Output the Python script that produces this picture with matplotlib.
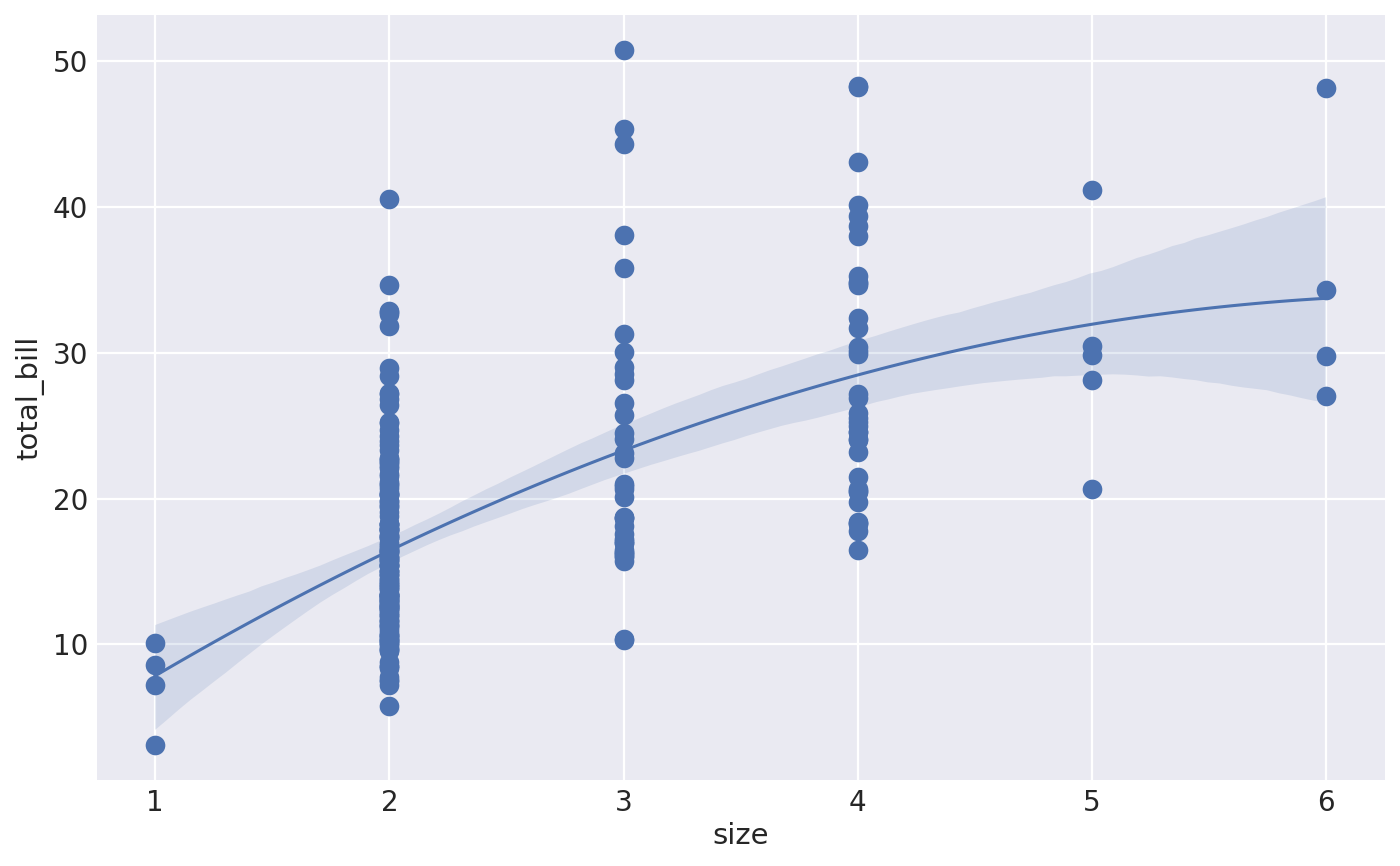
import numpy as np
import matplotlib
matplotlib.use("Agg")
import matplotlib.pyplot as plt
import seaborn as sns

# tips dataset: total_bill and party size
total_bill = [
    16.99, 10.34, 21.01, 23.68, 24.59, 25.29, 8.77, 26.88, 15.04, 14.78,
    10.27, 35.26, 15.42, 18.43, 14.83, 21.58, 10.33, 16.29, 16.97, 20.65,
    17.92, 20.29, 15.77, 39.42, 19.82, 17.81, 13.37, 12.69, 21.70, 19.65,
    9.55, 18.35, 15.06, 20.69, 17.78, 24.06, 16.31, 16.93, 18.69, 31.27,
    16.04, 17.46, 13.94, 9.68, 30.40, 18.29, 22.23, 32.40, 28.55, 18.04,
    12.54, 10.29, 34.81, 9.94, 25.56, 19.49, 38.01, 26.41, 11.24, 48.27,
    20.29, 13.81, 11.02, 18.29, 17.59, 20.08, 16.45, 3.07, 20.23, 15.01,
    12.02, 17.07, 26.86, 25.28, 14.73, 10.51, 17.92, 27.20, 22.76, 17.29,
    19.44, 16.66, 10.07, 32.68, 15.98, 34.83, 13.03, 18.28, 24.71, 21.16,
    28.97, 22.49, 5.75, 16.32, 22.75, 40.17, 27.28, 12.03, 21.01, 12.46,
    11.35, 15.38, 44.30, 22.42, 20.92, 15.36, 20.49, 25.21, 18.24, 14.31,
    14.00, 7.25, 38.07, 23.95, 25.71, 17.31, 29.93, 10.65, 12.43, 24.08,
    11.69, 13.42, 14.26, 15.95, 12.48, 29.80, 8.52, 14.52, 11.38, 22.82,
    19.08, 20.27, 11.17, 12.26, 18.26, 8.51, 10.33, 14.15, 16.00, 13.16,
    17.47, 34.30, 41.19, 27.05, 16.43, 8.35, 18.64, 11.87, 9.78, 7.51,
    14.07, 13.13, 17.26, 24.55, 19.77, 29.85, 48.17, 25.00, 13.39, 16.49,
    21.50, 12.66, 16.21, 13.81, 17.51, 24.52, 20.76, 31.71, 10.59, 10.63,
    50.81, 15.81, 7.25, 31.85, 16.82, 32.90, 17.89, 14.48, 9.60, 34.63,
    34.65, 23.33, 45.35, 23.17, 40.55, 20.69, 20.90, 30.46, 18.15, 23.10,
    15.69, 19.81, 28.44, 15.48, 16.58, 7.56, 10.34, 43.11, 13.00, 13.51,
    18.71, 12.74, 13.00, 16.40, 20.53, 16.47, 26.59, 38.73, 24.27, 12.76,
    30.06, 25.89, 48.33, 13.27, 28.17, 12.90, 28.15, 11.59, 7.74, 30.14,
    12.16, 13.42, 8.58, 15.98, 13.42, 16.27, 10.09, 20.45, 13.28, 22.12,
    24.01, 15.69, 11.61, 10.77, 15.53, 10.07, 12.60, 32.83, 35.83, 29.03,
    27.18, 22.67, 17.82, 18.78,
]
party_size = [
    2, 3, 3, 2, 4, 4, 2, 4, 2, 2, 2, 4, 2, 4, 2, 2, 3, 3, 3, 3,
    2, 2, 2, 4, 2, 4, 2, 2, 2, 2, 2, 4, 2, 4, 2, 3, 3, 3, 3, 3,
    3, 2, 2, 2, 4, 2, 2, 4, 3, 2, 2, 2, 4, 2, 4, 2, 4, 2, 2, 4,
    2, 2, 2, 4, 3, 3, 2, 1, 2, 2, 2, 3, 2, 2, 2, 2, 2, 4, 2, 2,
    2, 2, 1, 2, 2, 4, 2, 2, 2, 2, 2, 2, 2, 2, 2, 4, 2, 2, 2, 2,
    2, 2, 3, 2, 2, 2, 2, 2, 2, 2, 2, 1, 3, 2, 3, 2, 4, 2, 2, 4,
    2, 2, 2, 2, 2, 6, 2, 2, 2, 3, 2, 2, 2, 2, 2, 2, 2, 2, 2, 2,
    2, 6, 5, 6, 2, 2, 3, 2, 2, 2, 2, 2, 3, 4, 4, 5, 6, 4, 2, 4,
    4, 2, 3, 2, 2, 3, 2, 4, 2, 2, 3, 2, 2, 2, 2, 2, 2, 2, 2, 2,
    4, 2, 3, 4, 2, 5, 3, 5, 3, 3, 2, 2, 2, 2, 2, 2, 2, 4, 2, 2,
    3, 2, 2, 2, 4, 3, 3, 4, 2, 2, 3, 4, 4, 2, 3, 2, 5, 2, 2, 4,
    2, 2, 1, 3, 2, 2, 2, 4, 2, 2, 4, 3, 2, 2, 2, 2, 2, 2, 3, 3,
    2, 2, 2, 2,
]
assert len(total_bill) == len(party_size), (len(total_bill), len(party_size))

x = np.array(party_size, dtype=float)
y = np.array(total_bill)

plt.rcParams.update({
    "axes.facecolor": "#EAEAF2",
    "figure.facecolor": "white",
    "axes.edgecolor": "white",
    "grid.color": "white",
    "grid.linewidth": 1.6,
    "xtick.color": "#262626",
    "ytick.color": "#262626",
    "axes.labelcolor": "#262626",
    "font.family": ["DejaVu Sans"],
})

fig = plt.figure(figsize=(14, 8.66), dpi=100)
ax = fig.add_axes([0.069, 0.099, 0.92, 0.884])
ax.set_axisbelow(True)
ax.grid(True)

sns.regplot(x=x, y=y, order=2, ax=ax, color="#4C72B0", seed=0,
            scatter_kws={"s": 200, "alpha": 1, "linewidths": 0},
            line_kws={"linewidth": 2.2})

for s in ax.spines.values():
    s.set_visible(False)
ax.tick_params(length=0, labelsize=20, pad=6)
ax.set_xlabel("size", fontsize=21, labelpad=4)
ax.set_ylabel("total_bill", fontsize=21, labelpad=6)
ax.set_yticks([10, 20, 30, 40, 50])

fig.savefig("out.png", dpi=100)
